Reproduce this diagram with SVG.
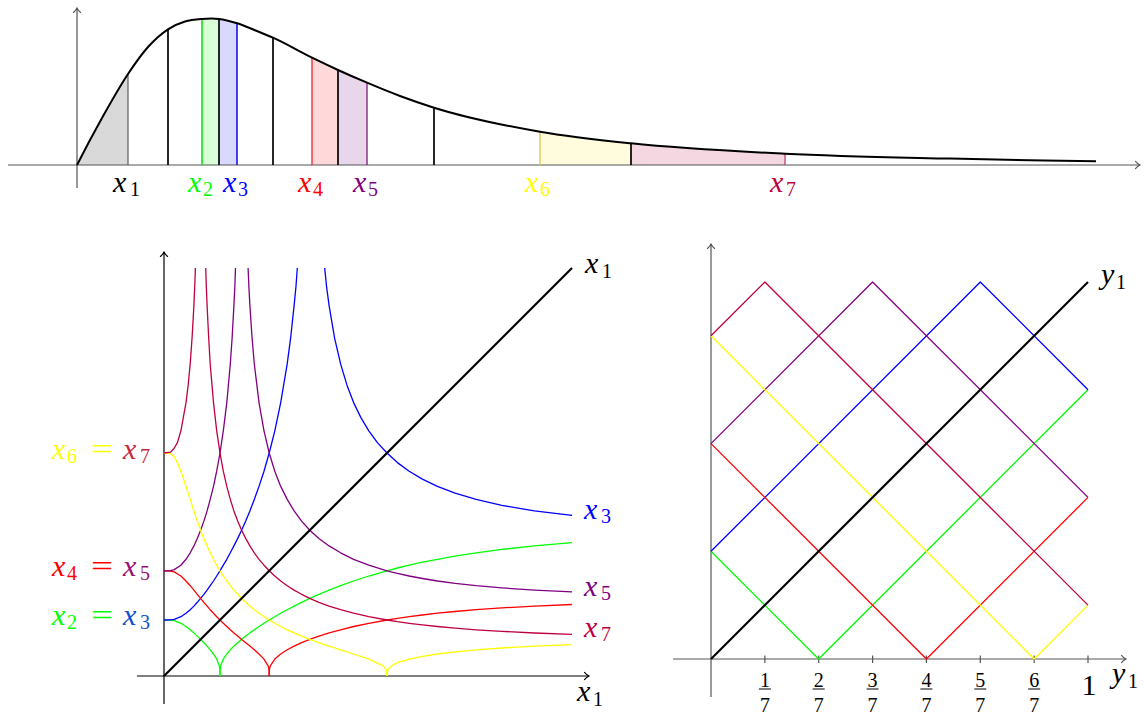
<svg xmlns="http://www.w3.org/2000/svg" width="1144" height="715" viewBox="0 0 1144 715" font-family="Liberation Serif, DejaVu Serif, serif">
<defs>
<style>
text{font-family:'Liberation Serif','DejaVu Serif',serif}
.m{font-style:italic;font-size:30px}
.s{font-style:normal;font-size:20px}
.f{font-size:20px;text-anchor:middle}
.ax{stroke:#555;stroke-width:1.2;fill:none}
.axk{stroke:#000;stroke-width:1.2;fill:none}
.c{fill:none;stroke-width:1.3;stroke-linejoin:round}
.g{stroke:#00ff00}.b{stroke:#0000ff}.r{stroke:#ff0000}.v{stroke:#800080}.y{stroke:#ffff00}.p{stroke:#bf0040}
.vl{stroke-width:1.7}
.diag{stroke:#000;stroke-width:2.2;fill:none}
</style>
<marker id="ag" markerUnits="userSpaceOnUse" markerWidth="10" markerHeight="10" viewBox="-6 -5 10 10" refX="0" refY="0" orient="auto"><path d="M-4.5,-3.6 C-3,-1.8 -1,-0.5 0,0 C-1,0.5 -3,1.8 -4.5,3.6" fill="none" stroke="#555" stroke-width="1.1" stroke-linecap="round"/></marker>
<marker id="ak" markerUnits="userSpaceOnUse" markerWidth="10" markerHeight="10" viewBox="-6 -5 10 10" refX="0" refY="0" orient="auto"><path d="M-4.5,-3.6 C-3,-1.8 -1,-0.5 0,0 C-1,0.5 -3,1.8 -4.5,3.6" fill="none" stroke="#000" stroke-width="1.1" stroke-linecap="round"/></marker>
<path id="curve" d="M77,165 C85.33,148.58 93.67,132.9 102,118 C110.67,102.5 119.33,86.99 128,74 C134.67,64 141.33,54.45 148,47 C154.67,39.55 161.33,33.67 168,29.3 C173.67,25.59 179.33,23.22 185,21.5 C190.67,19.78 196.33,19.42 202,19 C207.67,18.58 213.33,18.34 219,19 C225,19.7 231,21.43 237,23.3 C243,25.17 249,27.8 255,30.2 C261,32.6 267,35.02 273,37.7 C286,43.51 299,51.34 312,57.7 C320.67,61.94 329.33,66.04 338,70 C347.67,74.41 357.33,78.62 367,82.7 C378,87.34 389,91.89 400,96 C411.33,100.24 422.67,104.13 434,107.7 C469.33,118.84 504.67,125.58 540,131.7 C570.33,136.95 600.67,140.11 631,143.3 C682.33,148.7 733.67,151.17 785,153.7 C840,156.41 895,157.29 950,158.6 C998.67,159.76 1047.33,160.57 1096,161.3"/>
<clipPath id="under"><path d="M77,165 C85.33,148.58 93.67,132.9 102,118 C110.67,102.5 119.33,86.99 128,74 C134.67,64 141.33,54.45 148,47 C154.67,39.55 161.33,33.67 168,29.3 C173.67,25.59 179.33,23.22 185,21.5 C190.67,19.78 196.33,19.42 202,19 C207.67,18.58 213.33,18.34 219,19 C225,19.7 231,21.43 237,23.3 C243,25.17 249,27.8 255,30.2 C261,32.6 267,35.02 273,37.7 C286,43.51 299,51.34 312,57.7 C320.67,61.94 329.33,66.04 338,70 C347.67,74.41 357.33,78.62 367,82.7 C378,87.34 389,91.89 400,96 C411.33,100.24 422.67,104.13 434,107.7 C469.33,118.84 504.67,125.58 540,131.7 C570.33,136.95 600.67,140.11 631,143.3 C682.33,148.7 733.67,151.17 785,153.7 C840,156.41 895,157.29 950,158.6 C998.67,159.76 1047.33,160.57 1096,161.3 L1096,165 L77,165 Z"/></clipPath>
</defs>
<rect width="1144" height="715" fill="#fff"/>

<g id="top-plot">
<g id="top-fills" clip-path="url(#under)">
<rect x="77" y="0" width="51" height="165" fill="#d9d9d9"/>
<rect x="202" y="0" width="17" height="165" fill="#d9ffd9"/>
<rect x="219" y="0" width="18" height="165" fill="#d9d9ff"/>
<rect x="312" y="0" width="26" height="165" fill="#ffd9d9"/>
<rect x="338" y="0" width="29" height="165" fill="#e8d6ea"/>
<rect x="540" y="0" width="91" height="165" fill="#fffbdc"/>
<rect x="631" y="0" width="154" height="165" fill="#f4d7e1"/>
</g>
<g id="top-axes">
<line class="ax" x1="8" y1="165" x2="1140" y2="165" marker-end="url(#ag)"/>
<line class="ax" x1="77" y1="188" x2="77" y2="8" marker-end="url(#ag)"/>
</g>
<g id="top-cuts">
<line x1="128" y1="165" x2="128" y2="74" stroke="#666" stroke-width="1.3"/>
<line class="vl" x1="168" y1="165" x2="168" y2="29.3" stroke="#000"/>
<line class="vl" x1="202" y1="165" x2="202" y2="19" stroke="#22e022"/>
<line class="vl" x1="219" y1="165" x2="219" y2="19" stroke="#000"/>
<line class="vl" x1="237" y1="165" x2="237" y2="23.3" stroke="#2222ee"/>
<line class="vl" x1="273" y1="165" x2="273" y2="37.7" stroke="#000"/>
<line x1="312" y1="165" x2="312" y2="57.7" stroke="#ee2222" stroke-width="1.3"/>
<line class="vl" x1="338" y1="165" x2="338" y2="70" stroke="#000"/>
<line x1="367" y1="165" x2="367" y2="82.7" stroke="#7a1a7a" stroke-width="1.3"/>
<line class="vl" x1="434" y1="165" x2="434" y2="107.7" stroke="#000"/>
<line x1="540" y1="165" x2="540" y2="131.7" stroke="#d6c94a" stroke-width="1.3"/>
<line class="vl" x1="631" y1="165" x2="631" y2="143.3" stroke="#000"/>
<line x1="785" y1="165" x2="785" y2="153.7" stroke="#c04070" stroke-width="1.3"/>
</g>
<use href="#curve" fill="none" stroke="#000" stroke-width="2"/>
<g id="top-labels">
<text class="m" x="113" y="192" fill="#000">x<tspan class="s" x="130" y="196">1</tspan></text>
<text class="m" x="188" y="192" fill="#00ff00">x<tspan class="s" x="203" y="196">2</tspan></text>
<text class="m" x="223" y="192" fill="#0000ff">x<tspan class="s" x="238" y="196">3</tspan></text>
<text class="m" x="298" y="192" fill="#ff0000">x<tspan class="s" x="313" y="196">4</tspan></text>
<text class="m" x="353" y="192" fill="#800080">x<tspan class="s" x="368" y="196">5</tspan></text>
<text class="m" x="525" y="192" fill="#ffff00">x<tspan class="s" x="540" y="196">6</tspan></text>
<text class="m" x="770" y="192" fill="#bf0040">x<tspan class="s" x="786" y="196">7</tspan></text>
</g>
</g>

<g id="left-plot">
<g id="left-axes">
<line class="axk" x1="137" y1="676" x2="589" y2="676" marker-end="url(#ak)"/>
<line class="axk" x1="164" y1="704" x2="164" y2="252" marker-end="url(#ak)"/>
</g>
<g id="left-curves">
<polyline class="c g" points="164,620 170.6,620.1 174.2,620.7 180.9,623.3 186,626.5 190.2,629.8 193.9,632.9 197.3,636.1 200.6,639.4 203.9,642.7 207.1,646.1 210.2,649.8 213.5,654 216.7,659.1 219.3,665.8 219.9,669.4 220,676"/>
<polyline class="c g" points="220,676 220.1,669.4 220.7,665.8 223.3,659.1 226.8,654 230.3,649.8 233.9,646.1 237.7,642.7 241.6,639.4 245.7,636.1 249.9,632.9 254.3,629.8 259,626.5 264,623.3 269.2,620 274.8,616.7 280.7,613.2 287.2,609.7 294.1,606.1 301.6,602.3 309.8,598.4 318.9,594.3 329.1,590.1 340.6,585.7 353.6,581 368.8,576 387,570.8 397.4,568 409.2,565.2 422.4,562.2 437.4,559.3 455.1,556.1 476.1,552.8 501.8,549.4 534.4,545.9 572,542.7"/>
<polyline class="c b" points="164,620 170.6,619.9 174.2,619.3 180.9,616.7 186,613.2 190.2,609.7 193.9,606.1 197.3,602.3 200.6,598.4 203.9,594.3 207.1,590.1 210.2,585.7 213.5,581 216.7,576 220,570.8 223.3,565.2 226.8,559.3 230.3,552.8 233.9,545.9 237.7,538.4 241.6,530.2 245.7,521.1 249.9,510.9 254.3,499.4 259,486.4 264,471.2 269.2,453 274.8,430.8 280.7,402.6 287.2,363.9 290.6,338.2 294.1,305.6 296,286.2 297.3,268"/>
<polyline class="c b" points="324.7,268 326.5,286.2 329.1,305.6 334.6,338.2 340.6,363.9 346.9,384.9 353.6,402.6 360.9,417.6 368.8,430.8 377.4,442.6 387,453 397.4,462.6 409.2,471.2 422.4,479.1 437.4,486.4 455.1,493.1 476.1,499.4 501.8,505.4 534.4,510.9 572,515.3"/>
<polyline class="c r" points="164,570.8 170.6,571 174.2,571.9 180.9,576 186,581 190.2,585.7 193.9,590.1 197.3,594.3 200.6,598.4 203.9,602.3 207.1,606.1 210.2,609.7 213.5,613.2 216.7,616.7 220,620 223.3,623.3 226.8,626.5 230.3,629.8 233.9,632.9 237.7,636.1 241.6,639.4 245.7,642.7 249.9,646.1 254.3,649.8 259,654 264,659.1 268.1,665.8 269,669.4 269.2,676"/>
<polyline class="c r" points="269.2,676 269.4,669.4 270.3,665.8 274.8,659.1 280.7,654 287.2,649.8 294.1,646.1 301.6,642.7 309.8,639.4 318.9,636.1 329.1,632.9 340.6,629.8 353.6,626.5 368.8,623.3 387,620 397.4,618.4 409.2,616.7 422.4,615 437.4,613.2 455.1,611.5 476.1,609.7 501.8,607.9 534.4,606.1 572,604.5"/>
<polyline class="c v" points="164,570.8 170.6,570.6 174.2,569.6 180.9,565.2 186,559.3 190.2,552.8 193.9,545.9 197.3,538.4 200.6,530.2 203.9,521.1 207.1,510.9 210.2,499.4 213.5,486.4 216.7,471.2 220,453 223.3,430.8 226.8,402.6 230.3,363.9 232.1,338.2 233.9,305.6 234.85,286.2 235.5,268"/>
<polyline class="c v" points="248.1,268 248.85,286.2 249.9,305.6 252.1,338.2 254.3,363.9 259,402.6 264,430.8 269.2,453 274.8,471.2 280.7,486.4 287.2,499.4 294.1,510.9 301.6,521.1 309.8,530.2 318.9,538.4 329.1,545.9 340.6,552.8 353.6,559.3 368.8,565.2 387,570.8 397.4,573.4 409.2,576 422.4,578.5 437.4,581 455.1,583.4 476.1,585.7 501.8,587.9 534.4,590.1 572,591.9"/>
<polyline class="c y" points="164,453 170.6,453.8 174.2,456.8 177.4,462.6 180.9,471.2 186,486.4 190.2,499.4 193.9,510.9 197.3,521.1 200.6,530.2 203.9,538.4 207.1,545.9 210.2,552.8 213.5,559.3 216.7,565.2 220,570.8 223.3,576 226.8,581 230.3,585.7 233.9,590.1 237.7,594.3 241.6,598.4 245.7,602.3 249.9,606.1 254.3,609.7 259,613.2 264,616.7 269.2,620 274.8,623.3 280.7,626.5 287.2,629.8 294.1,632.9 301.6,636.1 309.8,639.4 318.9,642.7 329.1,646.1 340.6,649.8 353.6,654 368.8,659.1 383.2,665.8 386.2,669.4 387,676"/>
<polyline class="c y" points="387,676 387.9,669.4 391.7,665.8 397.4,662.65 409.2,659.1 422.4,656.3 437.4,654 455.1,651.8 476.1,649.8 501.8,648 534.4,646.1 572,644.7"/>
<polyline class="c p" points="164,453 170.6,452.1 174.2,448.3 177.4,442.6 180.9,430.8 186,402.6 188.2,384.9 190.2,363.9 192.05,338.2 193.9,305.6 194.75,286.2 195.4,268"/>
<polyline class="c p" points="205.7,268 206.3,286.2 207.1,305.6 208.7,338.2 210.2,363.9 213.5,402.6 216.7,430.8 220,453 223.3,471.2 226.8,486.4 230.3,499.4 233.9,510.9 237.7,521.1 241.6,530.2 245.7,538.4 249.9,545.9 254.3,552.8 259,559.3 264,565.2 269.2,570.8 274.8,576 280.7,581 287.2,585.7 294.1,590.1 301.6,594.3 309.8,598.4 318.9,602.3 329.1,606.1 340.6,609.7 353.6,613.2 368.8,616.7 387,620 397.4,621.7 409.2,623.3 422.4,624.9 437.4,626.5 455.1,628.2 476.1,629.8 501.8,631.3 534.4,633 572,634.3"/>
</g>
<line class="diag" x1="164" y1="676" x2="572" y2="268"/>
<g id="left-labels">
<text class="m" x="585" y="273" fill="#000">x<tspan class="s" x="602" y="278">1</tspan></text>
<text class="m" x="577" y="701" fill="#000">x<tspan class="s" x="593" y="706">1</tspan></text>
<text class="m" x="584" y="519" fill="#0000ff">x<tspan class="s" x="601" y="523">3</tspan></text>
<text class="m" x="584" y="596" fill="#800080">x<tspan class="s" x="601" y="600">5</tspan></text>
<text class="m" x="584" y="637" fill="#bf0040">x<tspan class="s" x="601" y="641">7</tspan></text>
<text class="m" x="52" y="459" fill="#ffff00">x<tspan class="s" x="67" y="463">6</tspan><tspan style="font-style:normal" x="91" y="459" textLength="22" lengthAdjust="spacingAndGlyphs">=</tspan></text>
<text class="m" x="123" y="459" fill="#c8283c">x<tspan class="s" x="140" y="463">7</tspan></text>
<text class="m" x="52" y="576" fill="#ff0000">x<tspan class="s" x="67" y="580">4</tspan><tspan style="font-style:normal" x="91" y="576" textLength="22" lengthAdjust="spacingAndGlyphs">=</tspan></text>
<text class="m" x="123" y="576" fill="#99106e">x<tspan class="s" x="140" y="580">5</tspan></text>
<text class="m" x="52" y="625" fill="#00ff00">x<tspan class="s" x="67" y="629">2</tspan><tspan style="font-style:normal" x="91" y="625" textLength="22" lengthAdjust="spacingAndGlyphs">=</tspan></text>
<text class="m" x="123" y="625" fill="#1050d0">x<tspan class="s" x="140" y="629">3</tspan></text>
</g>
</g>

<g id="right-plot">
<g id="right-axes">
<line class="ax" x1="673" y1="659" x2="1126" y2="659" marker-end="url(#ag)"/>
<line class="ax" x1="711" y1="697" x2="711" y2="244" marker-end="url(#ag)"/>
<g stroke="#555" stroke-width="1.2">
<line x1="764.9" y1="655.5" x2="764.9" y2="663"/>
<line x1="818.7" y1="655.5" x2="818.7" y2="663"/>
<line x1="872.6" y1="655.5" x2="872.6" y2="663"/>
<line x1="926.4" y1="655.5" x2="926.4" y2="663"/>
<line x1="980.3" y1="655.5" x2="980.3" y2="663"/>
<line x1="1034.2" y1="655.5" x2="1034.2" y2="663"/>
<line x1="1088" y1="655.5" x2="1088" y2="663"/>
</g>
</g>
<g id="right-lines">
<polyline class="c g" points="711,551.3 818.7,659 1088,389.7"/>
<polyline class="c b" points="711,551.3 980.3,282 1088,389.7"/>
<polyline class="c r" points="711,443.6 926.4,659 1088,497.4"/>
<polyline class="c v" points="711,443.6 872.6,282 1088,497.4"/>
<polyline class="c y" points="711,335.8 1034.2,659 1088,605.1"/>
<polyline class="c p" points="711,335.8 764.9,282 1088,605.1"/>
</g>
<line class="diag" x1="711" y1="659" x2="1088" y2="282"/>
<g id="right-labels">
<g fill="#000">
<text class="f" x="764.9" y="686.5">1</text><text class="f" x="764.9" y="711.5">7</text>
<text class="f" x="818.7" y="686.5">2</text><text class="f" x="818.7" y="711.5">7</text>
<text class="f" x="872.6" y="686.5">3</text><text class="f" x="872.6" y="711.5">7</text>
<text class="f" x="926.4" y="686.5">4</text><text class="f" x="926.4" y="711.5">7</text>
<text class="f" x="980.3" y="686.5">5</text><text class="f" x="980.3" y="711.5">7</text>
<text class="f" x="1034.2" y="686.5">6</text><text class="f" x="1034.2" y="711.5">7</text>
</g>
<g stroke="#000" stroke-width="1">
<line x1="758.9" y1="689" x2="770.9" y2="689"/>
<line x1="812.7" y1="689" x2="824.7" y2="689"/>
<line x1="866.6" y1="689" x2="878.6" y2="689"/>
<line x1="920.4" y1="689" x2="932.4" y2="689"/>
<line x1="974.3" y1="689" x2="986.3" y2="689"/>
<line x1="1028.2" y1="689" x2="1040.2" y2="689"/>
</g>
<text class="f" x="1089" y="695" style="font-size:30px">1</text>
<text class="m" x="1112" y="683" fill="#000">y<tspan class="s" x="1128" y="688">1</tspan></text>
<text class="m" x="1101" y="284" fill="#000">y<tspan class="s" x="1116" y="289">1</tspan></text>
</g>
</g>
</svg>
